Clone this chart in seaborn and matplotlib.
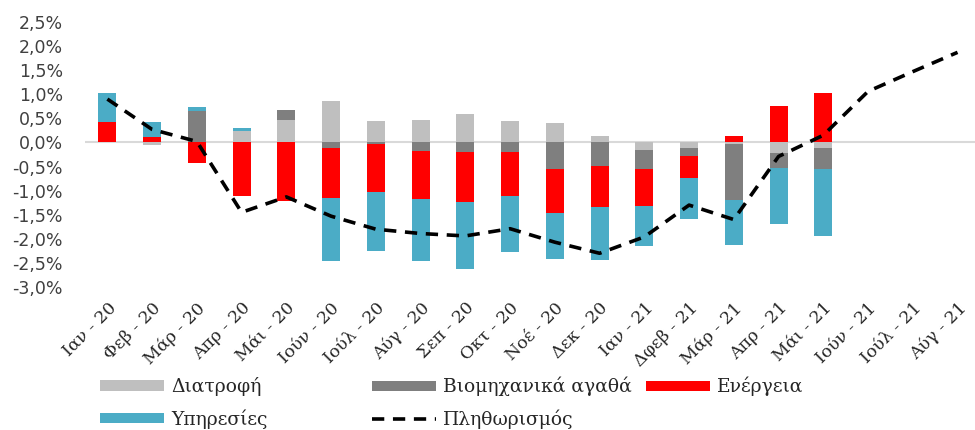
import numpy as np
import pandas as pd
import matplotlib
matplotlib.use("Agg")
import matplotlib.pyplot as plt
from matplotlib.patches import Patch
from matplotlib.lines import Line2D
from matplotlib.ticker import FuncFormatter
import seaborn as sns

# ---------------- data ----------------
months = ['Ιαν - 20', 'Φεβ - 20', 'Μάρ - 20', 'Απρ - 20', 'Μάι - 20', 'Ιούν - 20',
          'Ιούλ - 20', 'Αύγ - 20', 'Σεπ - 20', 'Οκτ - 20', 'Νοέ - 20', 'Δεκ - 20',
          'Ιαν - 21', 'Δφεβ - 21', 'Μάρ - 21', 'Απρ - 21', 'Μάι - 21', 'Ιούν - 21',
          'Ιούλ - 21', 'Αύγ - 21']

series_names = ['Διατροφή', 'Βιομηχανικά αγαθά', 'Ενέργεια', 'Υπηρεσίες']
food = [0.00, -0.05, 0.00, 0.23, 0.47, 0.87, 0.45, 0.47, 0.59, 0.44, 0.41, 0.14,
        -0.15, -0.11, -0.04, -0.22, -0.11]
industrial = [0.00, 0.00, 0.66, 0.00, 0.21, -0.12, -0.03, -0.18, -0.20, -0.20, -0.56, -0.49,
              -0.41, -0.18, -1.15, -0.30, -0.45]
energy = [0.43, 0.12, -0.43, -1.11, -1.21, -1.03, -1.00, -1.00, -1.04, -0.91, -0.90, -0.85,
          -0.76, -0.44, 0.14, 0.76, 1.02]
services = [0.60, 0.31, 0.08, 0.06, 0.00, -1.32, -1.22, -1.27, -1.38, -1.17, -0.96, -1.09,
            -0.82, -0.85, -0.94, -1.17, -1.38]
inflation_name = 'Πληθωρισμός'
inflation = [0.90, 0.27, 0.02, -1.45, -1.13, -1.53, -1.80, -1.89, -1.94, -1.79, -2.07, -2.30,
             -1.96, -1.30, -1.60, -0.29, 0.15, 1.06, 1.47, 1.87]

colors = ['#BFBFBF', '#7F7F7F', '#FF0000', '#4BACC6']

# ---------------- figure ----------------
sns.set_theme(style='white')
plt.rcParams['font.family'] = ['DejaVu Sans']

W, H = 975, 430
fig = plt.figure(figsize=(W / 100, H / 100), dpi=100)
ax = fig.add_axes([85 / W, (H - 287) / H, 890 / W, 265 / H])

n_bar = len(food)
bar_months = months[:n_bar]
vals = np.array([food, industrial, energy, services])
pos = np.clip(vals, 0, None).cumsum(axis=0)
neg = np.clip(vals, None, 0).cumsum(axis=0)

for k in range(len(series_names) - 1, -1, -1):
    for layer in (pos, neg):
        df = pd.DataFrame({'month': bar_months, 'value': layer[k]})
        sns.barplot(data=df, x='month', y='value', order=months, color=colors[k],
                    saturation=1, width=0.4, errorbar=None, linewidth=0,
                    edgecolor='none', ax=ax, zorder=2)

ax.axhline(0, color='#D9D9D9', lw=1.5, zorder=1)

xpos = np.arange(len(months))
sns.lineplot(x=xpos, y=inflation, color='black', lw=2.6, ax=ax, zorder=3)
ax.lines[-1].set_dashes([3.4, 2.4])

ax.set_xlim(-0.5, 19.39)
ax.set_ylim(-3.0, 2.5)
ax.set_yticks(np.arange(-3.0, 2.51, 0.5))
ax.yaxis.set_major_formatter(FuncFormatter(lambda v, p: f"{v:.1f}%".replace('.', ',')))
ax.set_xticks(xpos)
ax.set_xticklabels(months, rotation=45, ha='right', rotation_mode='anchor',
                   family='DejaVu Serif', fontsize=12.5, color='#262626')
ax.tick_params(axis='x', length=0, pad=9)
ax.tick_params(axis='y', length=0, pad=16, labelsize=12.5, labelcolor='#404040')
ax.set_xlabel('')
ax.set_ylabel('')
for s in ax.spines.values():
    s.set_visible(False)
ax.grid(False)

# ---------------- legend ----------------
handles = [Patch(facecolor=c, edgecolor='none') for c in colors]
line_h = Line2D([], [], color='black', lw=2.6, dashes=[3.4, 2.4])
cols = [([handles[0], handles[3]], [series_names[0], series_names[3]], 100),
        ([handles[1], line_h], [series_names[1], inflation_name], 372),
        ([handles[2]], [series_names[2]], 646)]
for hs, ls, x0 in cols:
    fig.legend(hs, ls, loc='upper left', bbox_to_anchor=(x0 / W, (H - 377) / H),
               frameon=False, borderpad=0, borderaxespad=0, handlelength=3.4,
               handleheight=0.5, handletextpad=0.38, labelspacing=0.7,
               prop={'family': 'DejaVu Serif', 'size': 13.5}, labelcolor='#262626')

fig.savefig('out.png', dpi=100)
